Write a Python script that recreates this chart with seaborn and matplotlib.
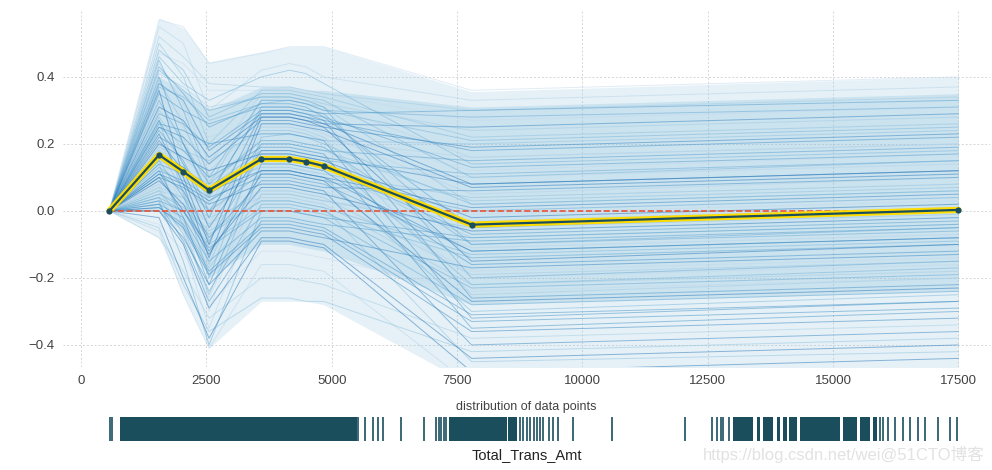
import numpy as np
import pandas as pd
import matplotlib
matplotlib.use("Agg")
import matplotlib.pyplot as plt
import seaborn as sns

# ---------------- data ----------------
feature_name = "Total_Trans_Amt"
grid_x = [565, 1556, 2041, 2553, 3597, 4155, 4482, 4842, 7790, 17500]
pdp_values = [0.0, 0.167, 0.117, 0.062, 0.155, 0.155, 0.147, 0.134, -0.041, 0.003]

ice_curves = [
    [0, 0.57, 0.55, 0.44, 0.47, 0.49, 0.49, 0.49, 0.36, 0.40],
    [0, 0.55, 0.50, 0.30, 0.42, 0.44, 0.43, 0.40, 0.33, 0.37],
    [0, 0.52, 0.46, 0.38, 0.37, 0.37, 0.36, 0.35, 0.30, 0.34],
    [0, 0.50, 0.40, 0.20, 0.36, 0.36, 0.35, 0.34, 0.22, 0.26],
    [0, 0.48, 0.42, 0.28, 0.35, 0.35, 0.34, 0.33, 0.10, 0.15],
    [0, 0.45, 0.30, 0.10, 0.33, 0.33, 0.32, 0.30, 0.28, 0.31],
    [0, 0.43, 0.35, 0.25, 0.32, 0.32, 0.31, 0.28, -0.05, 0.00],
    [0, 0.40, 0.20, 0.05, 0.30, 0.30, 0.29, 0.27, 0.18, 0.22],
    [0, 0.38, 0.33, 0.18, 0.29, 0.29, 0.28, 0.26, 0.25, 0.29],
    [0, 0.36, 0.10, -0.10, 0.28, 0.28, 0.27, 0.25, -0.15, -0.10],
    [0, 0.34, 0.28, 0.22, 0.27, 0.27, 0.26, 0.24, 0.12, 0.17],
    [0, 0.32, 0.25, 0.12, 0.26, 0.26, 0.25, 0.23, 0.05, 0.10],
    [0, 0.30, 0.22, 0.02, 0.25, 0.25, 0.24, 0.22, -0.25, -0.20],
    [0, 0.28, 0.18, 0.15, 0.24, 0.24, 0.23, 0.21, 0.20, 0.24],
    [0, 0.27, 0.05, -0.20, 0.22, 0.23, 0.22, 0.20, 0.02, 0.06],
    [0, 0.25, 0.20, 0.08, 0.21, 0.21, 0.20, 0.19, -0.10, -0.06],
    [0, 0.24, 0.15, 0.00, 0.20, 0.20, 0.19, 0.18, 0.15, 0.19],
    [0, 0.22, 0.18, 0.10, 0.19, 0.19, 0.18, 0.17, -0.35, -0.30],
    [0, 0.21, 0.12, -0.05, 0.18, 0.18, 0.17, 0.16, 0.08, 0.12],
    [0, 0.20, 0.16, 0.12, 0.17, 0.17, 0.16, 0.15, -0.02, 0.02],
    [0, 0.19, 0.00, -0.30, 0.16, 0.16, 0.15, 0.14, -0.20, -0.16],
    [0, 0.18, 0.14, 0.05, 0.15, 0.15, 0.14, 0.13, 0.10, 0.14],
    [0, 0.16, 0.10, 0.03, 0.14, 0.14, 0.13, 0.12, -0.08, -0.04],
    [0, 0.15, 0.12, 0.08, 0.13, 0.13, 0.12, 0.11, 0.04, 0.08],
    [0, 0.14, -0.05, -0.25, 0.12, 0.12, 0.11, 0.10, -0.30, -0.25],
    [0, 0.13, 0.08, 0.00, 0.11, 0.11, 0.10, 0.09, 0.00, 0.04],
    [0, 0.12, 0.09, 0.04, 0.10, 0.10, 0.09, 0.08, -0.12, -0.08],
    [0, 0.11, 0.06, -0.08, 0.09, 0.09, 0.08, 0.07, 0.06, 0.10],
    [0, 0.10, 0.07, 0.02, 0.08, 0.08, 0.07, 0.06, -0.40, -0.36],
    [0, 0.09, 0.02, -0.12, 0.07, 0.07, 0.06, 0.05, -0.06, -0.02],
    [0, 0.08, 0.05, 0.01, 0.06, 0.06, 0.05, 0.04, -0.18, -0.14],
    [0, 0.07, -0.10, -0.35, 0.05, 0.05, 0.04, 0.03, -0.03, 0.01],
    [0, 0.06, 0.04, -0.02, 0.04, 0.04, 0.03, 0.02, -0.22, -0.18],
    [0, 0.05, 0.02, -0.06, 0.03, 0.03, 0.02, 0.01, -0.45, -0.42],
    [0, 0.04, 0.00, -0.10, 0.01, 0.01, 0.00, -0.01, -0.14, -0.10],
    [0, 0.03, -0.15, -0.40, 0.00, 0.00, -0.01, -0.02, -0.28, -0.24],
    [0, 0.02, -0.02, -0.15, -0.02, -0.02, -0.03, -0.04, -0.09, -0.05],
    [0, 0.01, -0.04, -0.18, -0.04, -0.04, -0.05, -0.06, -0.33, -0.29],
    [0, 0.00, -0.08, -0.22, -0.06, -0.06, -0.07, -0.08, -0.17, -0.13],
    [0, -0.02, -0.20, -0.38, -0.09, -0.09, -0.10, -0.11, -0.48, -0.44],
    [0, -0.04, -0.12, -0.28, -0.12, -0.12, -0.13, -0.14, -0.24, -0.20],
    [0, -0.06, -0.25, -0.41, -0.16, -0.16, -0.17, -0.18, -0.52, -0.47],
    [0, -0.08, -0.18, -0.32, -0.20, -0.20, -0.21, -0.22, -0.38, -0.34],
    [0, -0.05, -0.22, -0.36, -0.26, -0.26, -0.27, -0.27, -0.42, -0.38],
    [0, 0.46, 0.38, 0.33, 0.40, 0.42, 0.41, 0.38, 0.14, 0.18],
    [0, 0.42, 0.36, 0.30, 0.34, 0.34, 0.33, 0.31, -0.20, -0.15],
    [0, 0.35, 0.30, 0.26, 0.31, 0.31, 0.30, 0.29, 0.30, 0.33],
    [0, 0.26, 0.24, 0.20, 0.23, 0.23, 0.22, 0.21, -0.32, -0.27],
    [0, 0.17, 0.13, 0.06, 0.12, 0.12, 0.11, 0.10, -0.12, -0.08],
    [0, 0.31, 0.27, 0.16, 0.28, 0.28, 0.27, 0.26, 0.08, 0.12],
    [0, 0.47, 0.44, 0.36, 0.36, 0.37, 0.36, 0.35, 0.27, 0.31],
    [0, 0.44, 0.32, 0.14, 0.35, 0.35, 0.34, 0.32, 0.16, 0.20],
    [0, 0.41, 0.37, 0.31, 0.34, 0.34, 0.33, 0.32, 0.24, 0.28],
    [0, 0.39, 0.26, 0.08, 0.33, 0.33, 0.32, 0.31, 0.02, 0.06],
    [0, 0.37, 0.34, 0.27, 0.32, 0.33, 0.32, 0.30, 0.21, 0.25],
    [0, 0.33, 0.20, 0.04, 0.31, 0.31, 0.30, 0.29, -0.10, -0.05],
    [0, 0.29, 0.26, 0.19, 0.30, 0.30, 0.29, 0.28, 0.13, 0.17],
    [0, 0.27, 0.14, -0.02, 0.29, 0.29, 0.28, 0.27, -0.26, -0.22],
    [0, 0.25, 0.22, 0.14, 0.27, 0.27, 0.26, 0.25, 0.19, 0.23],
    [0, 0.23, 0.08, -0.14, 0.26, 0.26, 0.25, 0.24, 0.07, 0.11],
    [0, 0.22, 0.19, 0.11, 0.24, 0.24, 0.23, 0.22, -0.04, 0.00],
    [0, 0.20, 0.10, -0.04, 0.23, 0.23, 0.22, 0.21, 0.16, 0.20],
    [0, 0.19, 0.16, 0.09, 0.21, 0.21, 0.20, 0.19, -0.14, -0.10],
    [0, 0.18, 0.06, -0.16, 0.20, 0.20, 0.19, 0.18, 0.03, 0.07],
    [0, 0.16, 0.13, 0.07, 0.18, 0.18, 0.17, 0.16, -0.22, -0.17],
    [0, 0.15, 0.04, -0.09, 0.17, 0.17, 0.16, 0.15, 0.11, 0.15],
    [0, 0.14, 0.11, 0.05, 0.15, 0.15, 0.14, 0.13, -0.07, -0.03],
    [0, 0.12, -0.02, -0.22, 0.14, 0.14, 0.13, 0.12, -0.16, -0.12],
    [0, 0.11, 0.08, 0.03, 0.12, 0.12, 0.11, 0.10, 0.01, 0.05],
    [0, 0.10, 0.00, -0.13, 0.11, 0.11, 0.10, 0.09, -0.27, -0.23],
    [0, 0.09, 0.06, 0.00, 0.09, 0.09, 0.08, 0.07, -0.01, 0.03],
    [0, 0.08, -0.06, -0.26, 0.08, 0.08, 0.07, 0.06, -0.11, -0.07],
    [0, 0.07, 0.04, -0.04, 0.06, 0.06, 0.05, 0.04, -0.19, -0.15],
    [0, 0.06, -0.03, -0.17, 0.05, 0.05, 0.04, 0.03, -0.05, -0.01],
    [0, 0.05, 0.01, -0.07, 0.03, 0.03, 0.02, 0.01, -0.13, -0.09],
    [0, 0.04, -0.07, -0.24, 0.02, 0.02, 0.01, 0.00, -0.23, -0.19],
    [0, 0.03, 0.00, -0.11, 0.00, 0.00, -0.01, -0.02, -0.08, -0.04],
    [0, 0.02, -0.09, -0.27, -0.03, -0.03, -0.04, -0.05, -0.31, -0.27],
    [0, 0.01, -0.05, -0.19, -0.05, -0.05, -0.06, -0.07, -0.36, -0.32],
    [0, 0.00, -0.10, -0.29, -0.08, -0.08, -0.09, -0.10, -0.44, -0.40],
]

# envelopes of the ICE fan (outer and dense core)
ice_upper = [0, 0.576, 0.546, 0.445, 0.475, 0.49, 0.49, 0.49, 0.356, 0.40]
ice_lower = [0, -0.08, -0.25, -0.41, -0.27, -0.27, -0.27, -0.28, -0.52, -0.47]
core_upper = [0, 0.40, 0.36, 0.30, 0.37, 0.37, 0.36, 0.36, 0.31, 0.35]
core_lower = [0, 0.00, -0.06, -0.20, -0.10, -0.10, -0.11, -0.12, -0.28, -0.24]

# distribution of data points (rug)
rug_single = [578, 618, 5526, 5666, 5831, 5931, 6030, 6377, 6842,
              7082, 7131, 7181, 7231, 7281,
              8757, 8817, 8887, 8957, 9027, 9096, 9156, 9216, 9342, 9422, 9521, 9820,
              10586, 12049, 12581, 12681, 12761, 12801, 12932,
              15938, 15998, 16098, 16237, 16397, 16537, 16696, 16836, 17096, 17335, 17475]
rug_dense_start = [778, 7347, 8524, 13006, 13479, 13605, 13878, 14004, 14124, 14341, 15199, 15538, 15797]
rug_dense_end = [5500, 8492, 8691, 13405, 13545, 13804, 13944, 14084, 14277, 15139, 15478, 15738, 15877]

x_ticks = [0, 2500, 5000, 7500, 10000, 12500, 15000, 17500]
y_ticks = [-0.4, -0.2, 0.0, 0.2, 0.4]
watermark = "https://blog.csdn.net/wei@51CTO博客"

# ---------------- style ----------------
sns.set_style("white")
plt.rcParams["font.family"] = ["Liberation Sans", "Noto Sans CJK SC", "DejaVu Sans"]

PDP_COLOR = "#1A4E5D"
HL_COLOR = "#FEDC00"
ZERO_COLOR = "#E75438"
TICK_COLOR = "#424242"

fig = plt.figure(figsize=(9.92, 4.70), dpi=100)
ax = fig.add_axes([0.0635, 0.219, 0.9345, 0.760])
ax_rug = fig.add_axes([0.0635, 0.062, 0.9345, 0.050])

xlim = (-360, 18130)
ylim = (-0.466, 0.60)

# envelopes
ax.fill_between(grid_x, ice_lower, ice_upper, color="#9ecae1", alpha=0.25, lw=0, zorder=1)
ax.fill_between(grid_x, core_lower, core_upper, color="#6baed6", alpha=0.22, lw=0, zorder=1)

# ICE lines
rows = []
for i, curve in enumerate(ice_curves):
    for xv, yv in zip(grid_x, curve):
        rows.append({"x": xv, "y": yv, "unit": i, "shade": i % 10})
ice_df = pd.DataFrame(rows)
shades = [matplotlib.colors.to_hex(c) for c in plt.get_cmap("Blues")(np.linspace(0, 1, 20))[5:15]]
sns.lineplot(data=ice_df, x="x", y="y", units="unit", estimator=None, hue="shade",
             palette=shades, linewidth=0.7, alpha=0.5, legend=False, sort=False, ax=ax, zorder=2)

# zero line
ax.plot([grid_x[0], grid_x[-1]], [0, 0], color=ZERO_COLOR, lw=1.2, ls="--", zorder=3)

# PDP line
pdp_df = pd.DataFrame({"x": grid_x, "y": pdp_values})
sns.lineplot(data=pdp_df, x="x", y="y", color=HL_COLOR, linewidth=4.5, ax=ax, zorder=4, sort=False)
sns.lineplot(data=pdp_df, x="x", y="y", color=PDP_COLOR, linewidth=1.6, marker="o",
             markersize=4.5, markeredgewidth=0, ax=ax, zorder=5, sort=False)

ax.set_xlim(*xlim)
ax.set_ylim(*ylim)
ax.set_xticks(x_ticks)
ax.set_yticks(y_ticks)
ax.set_xlabel("")
ax.set_ylabel("")
ax.grid(True, ls=(0, (2, 2)), color="#d5d5d5", lw=0.7, zorder=0)
ax.set_axisbelow(True)
for s in ax.spines.values():
    s.set_visible(False)
ax.tick_params(axis="both", length=0, labelsize=9.5, colors=TICK_COLOR, pad=6)

# rug / distribution
ax_rug.vlines(rug_single, 0, 1, color=PDP_COLOR, lw=1.2)
for a, b in zip(rug_dense_start, rug_dense_end):
    ax_rug.axvspan(a, b, color=PDP_COLOR, lw=0)
ax_rug.set_xlim(*xlim)
ax_rug.set_ylim(0, 1)
ax_rug.set_xticks([])
ax_rug.set_yticks([])
for s in ax_rug.spines.values():
    s.set_visible(False)
ax_rug.set_title("distribution of data points", fontsize=9, color=TICK_COLOR, pad=5)
ax_rug.set_xlabel(feature_name, fontsize=10.5, color="#222222", labelpad=5)

fig.text(0.993, 0.014, watermark, ha="right", va="bottom", fontsize=12, color="#e2e2e2")

fig.savefig("out.png", dpi=100)
